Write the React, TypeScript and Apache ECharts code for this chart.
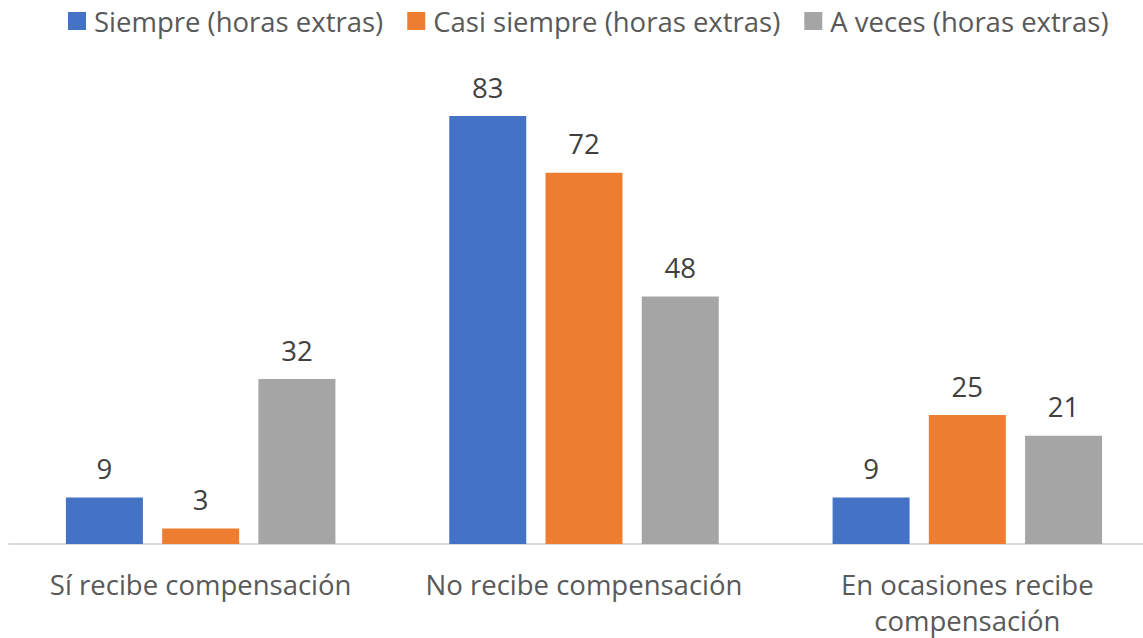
import React, { useEffect, useRef } from "react";
import * as echarts from "echarts";

const categories = ["Sí recibe compensación", "No recibe compensación", "En ocasiones recibe\ncompensación"];
const seriesNames = ["Siempre (horas extras)", "Casi siempre (horas extras)", "A veces (horas extras)"];
const siempre = [9, 83, 9];
const casiSiempre = [3, 72, 25];
const aVeces = [32, 48, 21];
const colors = ["#4472C4", "#ED7D31", "#A5A5A5"];

export default function App() {
  const ref = useRef<HTMLDivElement>(null);
  useEffect(() => {
    if (!ref.current) return;
    const chart = echarts.init(ref.current, null, { renderer: "svg" });
    const font = "'Open Sans', 'Noto Sans', sans-serif";
    const data = [siempre, casiSiempre, aVeces];
    chart.setOption({
      animation: false,
      textStyle: { fontFamily: font },
      legend: {
        top: 2,
        left: 63,
        itemWidth: 18,
        itemHeight: 18,
        itemGap: 24,
        icon: "rect",
        textStyle: { fontSize: 27.5, color: "#595959", fontFamily: font, padding: [0, 0, 0, 3] },
        data: seriesNames,
      },
      grid: { left: 9, width: 1150, top: 80, height: 464, containLabel: false, outerBoundsMode: "none" },
      xAxis: {
        type: "category",
        data: categories,
        axisLine: { lineStyle: { color: "#D9D9D9", width: 2 } },
        axisTick: { show: false },
        axisLabel: { interval: 0, fontSize: 27.5, color: "#595959", margin: 22, lineHeight: 36, fontFamily: font },
      },
      yAxis: {
        type: "value",
        min: 0,
        max: 90,
        show: false,
        splitLine: { show: false },
      },
      series: seriesNames.map((name, i) => ({
        name,
        type: "bar",
        data: data[i],
        barWidth: 77,
        barGap: "25%",
        itemStyle: { color: colors[i] },
        label: {
          show: true,
          position: "top",
          distance: 15,
          fontSize: 27.5,
          color: "#404040",
          fontFamily: font,
        },
      })),
    });
    return () => chart.dispose();
  }, []);
  return <div ref={ref} style={{ position: "absolute", left: 0, top: 0, width: 1143, height: 638 }} />;
}
